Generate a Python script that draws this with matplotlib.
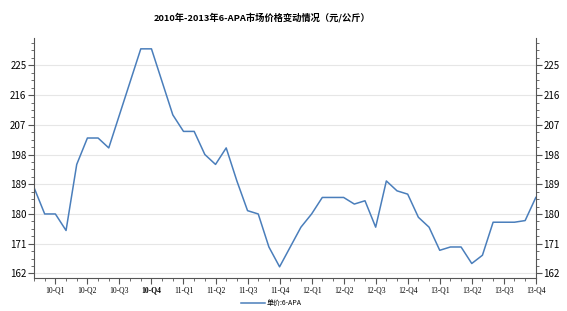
import matplotlib
matplotlib.use('Agg')
import matplotlib.pyplot as plt
from matplotlib.ticker import MultipleLocator

plt.rcParams['font.family'] = ['Noto Sans CJK SC', 'DejaVu Sans']

# monthly price, Jan 2010 - Dec 2013
prices = [188, 180, 180, 175, 195, 203, 203, 200, 210, 220, 230, 230,
          220, 210, 205, 205, 198, 195, 200, 190, 181, 180, 170, 164,
          170, 176, 180, 185, 185, 185, 183, 184, 176, 190, 187, 186,
          179, 176, 169, 170, 170, 165, 167.5, 177.5, 177.5, 177.5, 178, 185]
quarter_labels = ['10-Q1', '10-Q2', '10-Q3', '10-Q4', '11-Q1', '11-Q2', '11-Q3', '11-Q4',
                  '12-Q1', '12-Q2', '12-Q3', '12-Q4', '13-Q1', '13-Q2', '13-Q3', '13-Q4']
y_ticks = [162, 171, 180, 189, 198, 207, 216, 225]
title = '2010年-2013年6-APA市场价格变动情况（元/公斤）'
series_name = '单价:6-APA'

fig = plt.figure(figsize=(5.67, 3.11), dpi=100)
ax = fig.add_axes([0.06, 0.106, 0.885, 0.772])

x = list(range(len(prices)))
line, = ax.plot(x, prices, color='#4a7ebb', lw=1.1, label=series_name)

ax.set_xlim(0, len(prices) - 1)
ax.set_ylim(160.6, 233.3)

ax.set_yticks(y_ticks)
ax.yaxis.set_minor_locator(MultipleLocator(2.25))
ax.grid(axis='y', which='major', color='#e6e6e6', lw=0.8)
ax.set_axisbelow(True)

qpos = [2 + 3 * i for i in range(len(quarter_labels))]
qpos[-1] = len(prices) - 1
ax.set_xticks(qpos)
ax.set_xticklabels(quarter_labels, fontsize=5.5, family=['Liberation Serif', 'DejaVu Serif'])
ax.set_xticks(x, minor=True)
ax.get_xticklabels()[3].set_fontweight('bold')

ax.tick_params(axis='y', which='both', left=True, right=True, labelleft=True, labelright=True,
               labelsize=7, color='#555555', pad=1.5)
ax.tick_params(axis='y', which='major', length=4)
ax.tick_params(axis='y', which='minor', length=2)
ax.tick_params(axis='x', which='major', length=4, color='#555555', pad=2)
ax.tick_params(axis='x', which='minor', length=2, color='#555555')

for s in ['left', 'right', 'bottom']:
    ax.spines[s].set_color('#555555')
    ax.spines[s].set_linewidth(0.8)
ax.spines['top'].set_visible(False)

fig.text(0.462, 0.945, title, ha='center', va='center', fontsize=6.7, fontweight='bold')

fig.legend(handles=[line], loc='center', bbox_to_anchor=(0.478, 0.025), frameon=False,
           fontsize=5, handlelength=3.5, handletextpad=0.2)

fig.savefig('out.png', dpi=100)
